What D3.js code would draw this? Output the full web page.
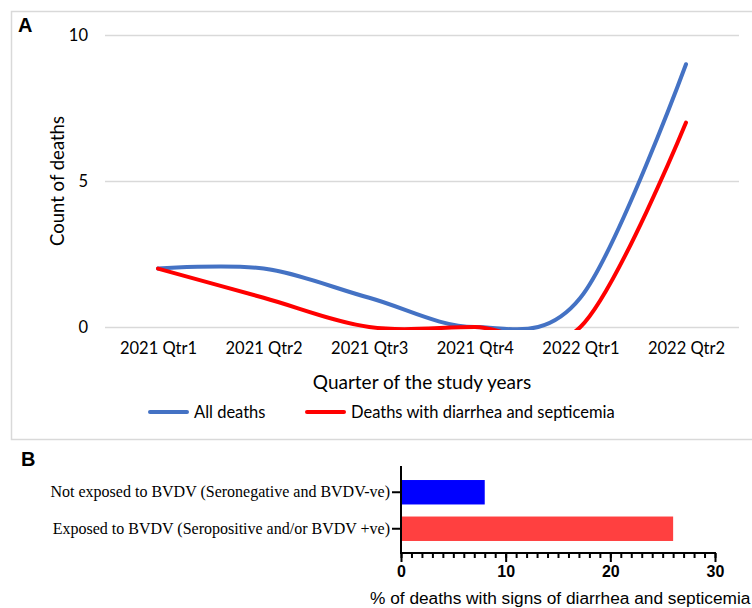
<!DOCTYPE html>
<html>
<head>
<meta charset="utf-8">
<script src="https://cdn.jsdelivr.net/npm/d3@7"></script>
<style>
  html, body { margin: 0; padding: 0; background: #fff; }
  svg { display: block; }
</style>
</head>
<body>
<svg id="chart" width="752" height="608"></svg>
<script>
// ---------- DATA ----------
const quarters = ["2021 Qtr1", "2021 Qtr2", "2021 Qtr3", "2021 Qtr4", "2022 Qtr1", "2022 Qtr2"];
const allDeaths = [2, 2, 1, 0, 1, 9];
const diarrheaDeaths = [2, 1, 0, 0, 0, 7];
const seriesNames = ["All deaths", "Deaths with diarrhea and septicemia"];
const countTicks = [0, 5, 10];

const exposureCategories = [
  "Not exposed to BVDV (Seronegative and BVDV-ve)",
  "Exposed to BVDV (Seropositive and/or BVDV +ve)"
];
const exposurePercent = [8, 26];
const percentTicks = [0, 10, 20, 30];

// ---------- SETUP ----------
const svg = d3.select("#chart");
const calib = "Lato, 'Open Sans', sans-serif";

// Panel A frame
svg.append("rect")
  .attr("x", 11.5).attr("y", 11.5).attr("width", 750).attr("height", 428)
  .attr("fill", "#fff").attr("stroke", "#d9d9d9").attr("stroke-width", 1.5);

svg.append("text").attr("x", 18).attr("y", 32)
  .attr("font-family", "Arial, 'Liberation Sans', sans-serif")
  .attr("font-weight", "bold").attr("font-size", 20).text("A");

// Scales panel A
const xA = d3.scalePoint().domain(quarters).range([158, 686]);
const yA = d3.scaleLinear().domain([0, 10]).range([327, 35]);

// gridlines
const gA = svg.append("g");
gA.selectAll("line.grid").data(countTicks).join("line")
  .attr("x1", 105).attr("x2", 739)
  .attr("y1", d => yA(d) + 0.5).attr("y2", d => yA(d) + 0.5)
  .attr("stroke", "#d9d9d9").attr("stroke-width", 1.5);

// y axis labels
const yAxisA = d3.axisLeft(yA).tickValues(countTicks).tickSize(0).tickPadding(0);
const yAxG = svg.append("g").attr("transform", "translate(88,0)").call(yAxisA);
yAxG.select(".domain").remove();
yAxG.selectAll("text").attr("font-family", calib).attr("font-size", 16.5).attr("fill", "#000");

// x axis labels
const xAxisA = d3.axisBottom(xA).tickSize(0).tickPadding(0);
const xAxG = svg.append("g").attr("transform", "translate(0,342)").call(xAxisA);
xAxG.select(".domain").remove();
xAxG.selectAll("text").attr("font-family", calib).attr("font-size", 16.5).attr("fill", "#000");

// axis titles
svg.append("text").attr("transform", "translate(57,181) rotate(-90)")
  .attr("text-anchor", "middle").attr("dominant-baseline", "central")
  .attr("font-family", calib).attr("font-size", 18.5).text("Count of deaths");
svg.append("text").attr("x", 422).attr("y", 389)
  .attr("text-anchor", "middle")
  .attr("font-family", calib).attr("font-size", 19).text("Quarter of the study years");

// clip
svg.append("clipPath").attr("id", "clipA").append("rect")
  .attr("x", 100).attr("y", 20).attr("width", 650).attr("height", 310);

const line = d3.line()
  .x((d, i) => xA(quarters[i]))
  .y(d => yA(d))
  .curve(d3.curveCardinal.tension(0));

const seriesData = [allDeaths, diarrheaDeaths];
const colors = ["#4472C4", "#FF0000"];
svg.append("g").attr("clip-path", "url(#clipA)")
  .selectAll("path").data(seriesData).join("path")
  .attr("d", line)
  .attr("fill", "none")
  .attr("stroke", (d, i) => colors[i])
  .attr("stroke-width", 4)
  .attr("stroke-linecap", "round")
  .attr("stroke-linejoin", "round");

// legend
const legendX = [150, 307];
const lg = svg.append("g");
seriesNames.forEach((name, i) => {
  lg.append("line")
    .attr("x1", legendX[i]).attr("x2", legendX[i] + 37)
    .attr("y1", 412).attr("y2", 412)
    .attr("stroke", colors[i]).attr("stroke-width", 4).attr("stroke-linecap", "round");
  lg.append("text").attr("x", legendX[i] + 44).attr("y", 418)
    .attr("font-family", calib).attr("font-size", 16.5).text(name);
});

// ---------- PANEL B ----------
svg.append("text").attr("x", 21).attr("y", 466)
  .attr("font-family", "Arial, 'Liberation Sans', sans-serif")
  .attr("font-weight", "bold").attr("font-size", 20).text("B");

const xB = d3.scaleLinear().domain([0, 30]).range([401, 715]);
const yB = d3.scaleBand().domain(exposureCategories).range([474, 547])
  .paddingInner(0.33).paddingOuter(0.165);
const barColors = ["#0000FF", "#FF4040"];

svg.append("g").selectAll("rect").data(exposurePercent).join("rect")
  .attr("x", xB(0))
  .attr("y", (d, i) => yB(exposureCategories[i]))
  .attr("width", d => xB(d) - xB(0))
  .attr("height", yB.bandwidth())
  .attr("fill", (d, i) => barColors[i]);

// x axis B: minor ticks
const xAxB = svg.append("g").attr("transform", "translate(0,553)");
xAxB.call(d3.axisBottom(xB).tickValues(d3.range(0, 31, 1)).tickSize(5).tickFormat(""));
xAxB.select(".domain").remove();
xAxB.selectAll("line").attr("stroke", "#000").attr("stroke-width", 2);
const xAxBMaj = svg.append("g").attr("transform", "translate(0,553)");
xAxBMaj.call(d3.axisBottom(xB).tickValues(percentTicks).tickSize(9).tickPadding(4).tickSizeOuter(0));
xAxBMaj.select(".domain").attr("stroke-width", 2).attr("d", `M${xB(0)-1},0H${xB(30)+1}`);
xAxBMaj.selectAll("line").attr("stroke", "#000").attr("stroke-width", 2);
xAxBMaj.selectAll("text").attr("font-family", "Arial, 'Liberation Sans', sans-serif")
  .attr("font-weight", "bold").attr("font-size", 16).attr("fill", "#000");

// y axis B
const yAxB = svg.append("g").attr("transform", `translate(${xB(0)},0)`);
yAxB.call(d3.axisLeft(yB).tickSize(9).tickPadding(2).tickSizeOuter(0));
yAxB.select(".domain").attr("stroke-width", 2).attr("d", "M0,466V554");
yAxB.selectAll("line").attr("stroke", "#000").attr("stroke-width", 2);
yAxB.selectAll("text").attr("font-family", "'Liberation Serif', 'Times New Roman', serif")
  .attr("font-size", 16).attr("fill", "#000");

svg.append("text").attr("x", 370).attr("y", 604)
  .attr("text-anchor", "start")
  .attr("font-family", "Arial, 'Liberation Sans', sans-serif")
  .attr("font-size", 17.3).text("% of deaths with signs of diarrhea and septicemia");
</script>
</body>
</html>
